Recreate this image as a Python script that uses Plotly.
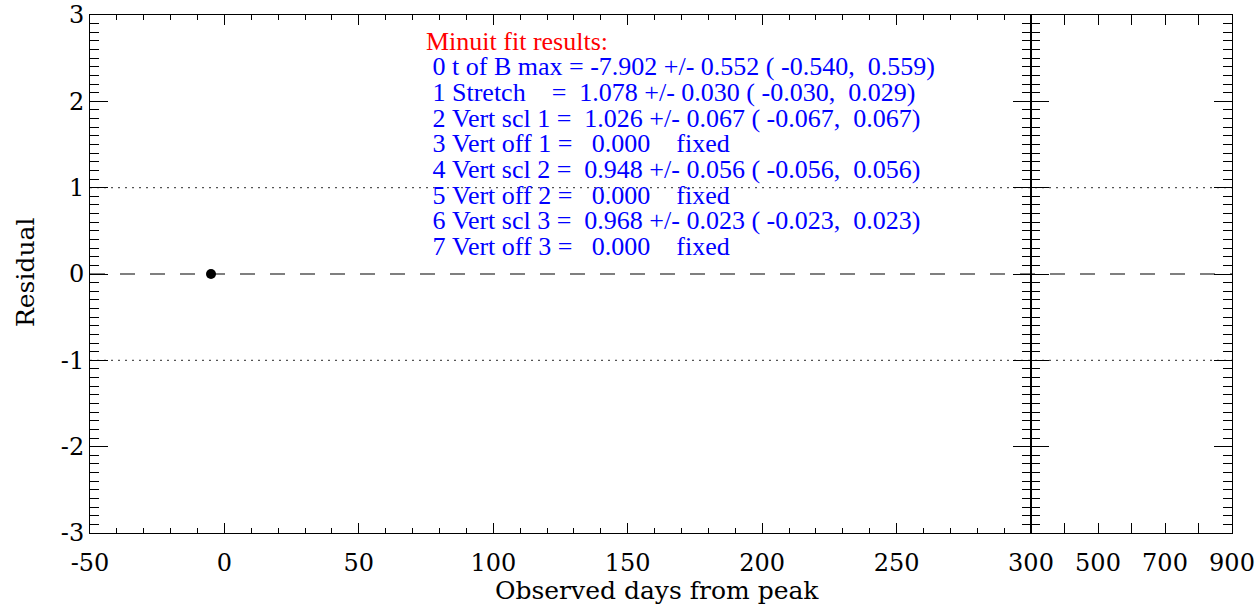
import plotly.graph_objects as go

# ---- data ----
point_x = [-5.0]
point_y = [0.0]

left_ticks = [-50, 0, 50, 100, 150, 200, 250, 300]
left_ticktext = ["-50", "0", "50", "100", "150", "200", "250", "300"]
right_ticks = [300, 400, 500, 600, 700, 800, 900]
right_ticktext = ["", "", "500", "", "700", "", "900"]
y_ticks = [-3, -2, -1, 0, 1, 2, 3]
y_ticktext = ["-3", "-2", "-1", "0", "1", "2", "3"]

ref_dashed = [0]
ref_dotted = [1, -1]

title_text = "Minuit fit results:"
fit_lines = [
    " 0 t of B max = -7.902 +/- 0.552 ( -0.540,  0.559)",
    " 1 Stretch    =  1.078 +/- 0.030 ( -0.030,  0.029)",
    " 2 Vert scl 1 =  1.026 +/- 0.067 ( -0.067,  0.067)",
    " 3 Vert off 1 =   0.000    fixed",
    " 4 Vert scl 2 =  0.948 +/- 0.056 ( -0.056,  0.056)",
    " 5 Vert off 2 =   0.000    fixed",
    " 6 Vert scl 3 =  0.968 +/- 0.023 ( -0.023,  0.023)",
    " 7 Vert off 3 =   0.000    fixed",
]

# ---- layout geometry (pixels) ----
W, H = 1260, 605
L, R, T, B = 90, 28, 15, 72
pw = W - L - R
ph = H - T - B
split = (1031 - L) / pw

tickfont = dict(family="DejaVu Serif", size=24, color="black")
titlefont = dict(family="DejaVu Serif", size=25, color="black")
txtfont = "Liberation Serif"

fig = go.Figure()
fig.add_trace(go.Scatter(x=point_x, y=point_y, mode="markers",
                         marker=dict(color="black", size=10),
                         xaxis="x", yaxis="y", showlegend=False, hoverinfo="skip"))
fig.add_trace(go.Scatter(x=[None], y=[None], mode="markers",
                         xaxis="x2", yaxis="y2", showlegend=False, hoverinfo="skip"))

common_y = dict(range=[-3, 3], tickvals=y_ticks, ticktext=y_ticktext,
                ticks="inside", ticklen=18, automargin=False,
                tickwidth=1, tickcolor="black", showline=True, linecolor="black",
                linewidth=1, mirror="ticks", showgrid=False, zeroline=False,
                minor=dict(dtick=0.1, ticks="inside", ticklen=9, tickcolor="black",
                           tickwidth=1, showgrid=False),
                tickfont=tickfont)

fig.update_layout(
    width=W, height=H,
    margin=dict(l=L, r=R, t=T, b=B, autoexpand=False),
    paper_bgcolor="white", plot_bgcolor="white",
    font=dict(family="DejaVu Serif", color="black"),
    xaxis=dict(domain=[0, split], range=[-50, 300], tickvals=left_ticks,
               ticktext=left_ticktext, automargin=False,
               ticks="inside", ticklen=10, tickwidth=1, tickcolor="black",
               showline=True, linecolor="black", linewidth=1.2, mirror="ticks",
               showgrid=False, zeroline=False, anchor="y",
               minor=dict(dtick=10, ticks="inside", ticklen=5, tickcolor="black",
                          tickwidth=1, showgrid=False),
               tickfont=tickfont, ticklabelstandoff=8),
    xaxis2=dict(domain=[split, 1], range=[300, 900], tickvals=right_ticks,
                ticktext=right_ticktext, ticks="inside", ticklen=10, tickwidth=1,
                automargin=False,
                tickcolor="black", showline=True, linecolor="black", linewidth=1.2,
                mirror="ticks", showgrid=False, zeroline=False, anchor="y2",
                tickfont=tickfont, ticklabelstandoff=8),
    yaxis=dict(anchor="x", **common_y),
    yaxis2=dict(anchor="x2", matches="y", showticklabels=False, **common_y),
)

for yv in ref_dashed:
    fig.add_shape(type="line", xref="paper", yref="y", x0=0, x1=1, y0=yv, y1=yv,
                  line=dict(color="black", width=1.2, dash="15px,15px"), layer="below")
for yv in ref_dotted:
    fig.add_shape(type="line", xref="paper", yref="y", x0=0, x1=1, y0=yv, y1=yv,
                  line=dict(color="#555555", width=1.2, dash="2px,5px"), layer="below")

def px_x(p):
    return (p - L) / pw

def px_y(p):
    return 1 - (p - T) / ph

nb = "\u00a0"
base0 = 50
step = 25.7
fig.add_annotation(text=title_text.replace(" ", nb), xref="paper", yref="paper",
                   x=px_x(424), y=px_y(base0 - 9), xanchor="left", yanchor="middle",
                   showarrow=False, font=dict(family=txtfont, size=26, color="red"))
for i, line in enumerate(fit_lines):
    fig.add_annotation(text=line.replace(" ", nb), xref="paper", yref="paper",
                       x=px_x(424), y=px_y(base0 + step * (i + 1) - 9),
                       xanchor="left", yanchor="middle", showarrow=False,
                       font=dict(family=txtfont, size=26, color="blue"))

fig.add_annotation(text="Observed days from peak", xref="paper", yref="paper",
                   x=px_x(657), y=px_y(590), xanchor="center", yanchor="middle",
                   showarrow=False, font=titlefont)
fig.add_annotation(text="Residual", xref="paper", yref="paper",
                   x=px_x(25), y=px_y(273), xanchor="center", yanchor="middle",
                   textangle=-90, showarrow=False, font=titlefont)

fig.write_html("out.html", config={"displayModeBar": False},
               post_script="document.body.style.margin='0';document.body.style.overflow='hidden';")
